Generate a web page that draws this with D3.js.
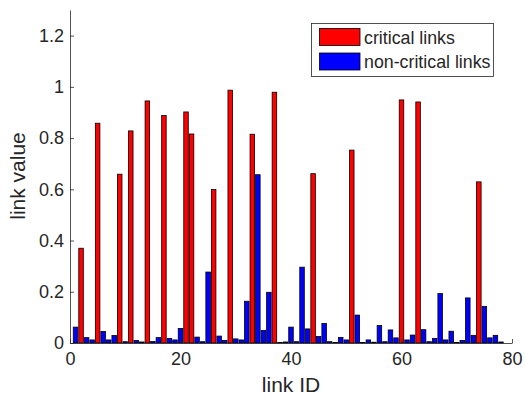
<!DOCTYPE html>
<html>
<head>
<meta charset="utf-8">
<script src="https://cdn.jsdelivr.net/npm/d3@7"></script>
<style>
	body { margin: 0; background: #fff; }
	text { font-family: 'Liberation Sans', Arial, sans-serif; fill: #262626; }
</style>
</head>
<body>
<svg id="chart"></svg>
<script>
// ========== DATA ==========
// link IDs 1..78, one value each, split in two series
var linkIds = d3.range(1, 79);
var critical = [
	0, 0.37, 0, 0, 0.858, 0, 0, 0, 0.659, 0,
	0.828, 0, 0, 0.945, 0, 0, 0.888, 0, 0, 0,
	0.902, 0.816, 0, 0, 0, 0.599, 0, 0, 0.987, 0,
	0, 0, 0.815, 0, 0, 0, 0.979, 0, 0, 0,
	0, 0, 0, 0.661, 0, 0, 0, 0, 0, 0,
	0.753, 0, 0, 0, 0, 0, 0, 0, 0, 0.949,
	0, 0, 0.941, 0, 0, 0, 0, 0, 0, 0,
	0, 0, 0, 0.629, 0, 0, 0, 0
];
var nonCritical = [
	0.062, 0, 0.021, 0.012, 0, 0.045, 0.012, 0.029, 0, 0.005,
	0, 0.01, 0.004, 0, 0.006, 0.021, 0, 0.018, 0.012, 0.057,
	0, 0, 0.023, 0.005, 0.277, 0, 0.027, 0.01, 0, 0.016,
	0.012, 0.163, 0, 0.657, 0.049, 0.198, 0, 0.002, 0.004, 0.062,
	0.005, 0.296, 0.055, 0, 0.025, 0.076, 0.005, 0.002, 0.022, 0.012,
	0, 0.109, 0.002, 0.012, 0.003, 0.068, 0.005, 0.051, 0.02, 0,
	0.012, 0.031, 0, 0.052, 0.005, 0.018, 0.193, 0.012, 0.046, 0.002,
	0.01, 0.176, 0.03, 0, 0.143, 0.02, 0.03, 0.004
];
var seriesNames = ['critical links', 'non-critical links'];
var seriesColors = ['#ff0000', '#0000ff'];
var xTicks = [0, 20, 40, 60, 80];
var yTicks = [0, 0.2, 0.4, 0.6, 0.8, 1, 1.2];

// ========== CHART ==========
var width = 525;
var height = 403;
var axisColor = '#262626';

var x = d3.scaleLinear()
	.domain([0, 80])
	.range([70, 512]);
var y = d3.scaleLinear()
	.domain([0, 1.3])
	.range([343, 10]);

var svg = d3.select('svg#chart')
	.attr('width', width)
	.attr('height', height);

var barW = x(0.82) - x(0);

// bars - both series on the same slot, the other one is zero
var series = [critical, nonCritical];
series.forEach(function(vals, s) {
	svg.append('g')
		.selectAll('rect')
		.data(linkIds)
		.enter().append('rect')
			.attr('x', function(d) { return x(d) - barW / 2; })
			.attr('y', function(d, i) { return y(vals[i]); })
			.attr('width', barW)
			.attr('height', function(d, i) { return y(0) - y(vals[i]); })
			.attr('fill', seriesColors[s])
			.attr('stroke', '#000')
			.attr('stroke-width', 0.8)
			.style('display', function(d, i) { return vals[i] > 0 ? null : 'none'; });
});

// axes (ticks point inward, no box)
var xAxis = svg.append('g')
	.attr('transform', 'translate(0,' + y(0) + ')')
	.call(d3.axisBottom(x).tickValues(xTicks).tickSizeInner(-4).tickSizeOuter(0).tickPadding(9));
var yAxis = svg.append('g')
	.attr('transform', 'translate(' + x(0) + ',0)')
	.call(d3.axisLeft(y).tickValues(yTicks).tickSizeInner(-4).tickSizeOuter(0).tickPadding(6)
		.tickFormat(function(d) { return d3.format('')(d); }));

[xAxis, yAxis].forEach(function(ax) {
	ax.select('.domain').attr('stroke', axisColor).attr('stroke-width', 0.8);
	ax.selectAll('.tick line').attr('stroke', axisColor).attr('stroke-width', 0.8);
	ax.selectAll('.tick text')
		.style('font-family', "'Liberation Sans', Arial, sans-serif")
		.style('font-size', '18px')
		.attr('fill', axisColor);
});

// axis labels
svg.append('text')
	.attr('x', 291)
	.attr('y', 392)
	.attr('text-anchor', 'middle')
	.style('font-size', '21px')
	.text('link ID');
svg.append('text')
	.attr('transform', 'translate(25,176)rotate(-90)')
	.attr('text-anchor', 'middle')
	.style('font-size', '21px')
	.text('link value');

// legend
var legend = svg.append('g');
legend.append('rect')
	.attr('x', 311.5)
	.attr('y', 23.5)
	.attr('width', 182)
	.attr('height', 53)
	.attr('fill', '#fff')
	.attr('stroke', axisColor)
	.attr('stroke-width', 0.8);
seriesNames.forEach(function(name, i) {
	legend.append('rect')
		.attr('x', 319.5)
		.attr('y', 28.5 + i * 24.5)
		.attr('width', 40.5)
		.attr('height', 17)
		.attr('fill', seriesColors[i])
		.attr('stroke', '#000')
		.attr('stroke-width', 0.8);
	legend.append('text')
		.attr('x', 364)
		.attr('y', 43.5 + i * 24.5)
		.style('font-size', '17.8px')
		.text(name);
});
</script>
</body>
</html>
